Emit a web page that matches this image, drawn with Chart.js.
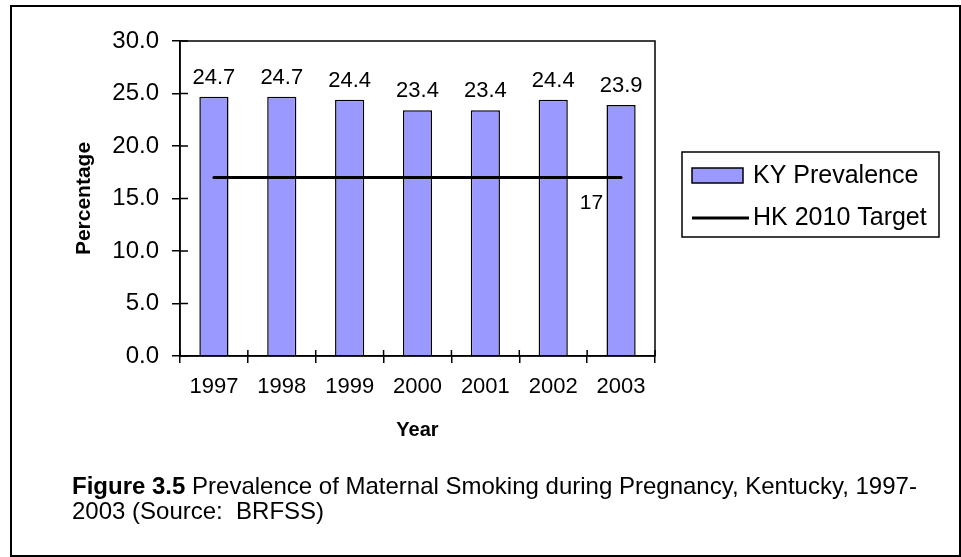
<!DOCTYPE html>
<html>
<head>
<meta charset="utf-8">
<script src="https://cdn.jsdelivr.net/npm/chart.js@4.4.0/dist/chart.umd.min.js"></script>
<style>
  html, body { margin: 0; padding: 0; background: #fff; }
  #wrap { position: relative; width: 961px; height: 557px; overflow: hidden; }
  #frame { position: absolute; left: 10px; top: 5px; width: 947px; height: 548px; border: 2px solid #000; }
  #chart { position: absolute; left: 0; top: 0; }
  #caption { position: absolute; left: 72px; top: 473px; font-family: 'Liberation Sans', Arial, sans-serif;
             font-size: 24px; line-height: 25px; color: #000; white-space: nowrap; }
</style>
</head>
<body>
<div id="wrap">
  <div id="frame"></div>
  <canvas id="chart" width="961" height="557"></canvas>
  <div id="caption"><b>Figure 3.5</b> Prevalence of Maternal Smoking during Pregnancy, Kentucky, 1997-<br>2003 (Source:&nbsp; BRFSS)</div>
</div>
<script>
const years = ['1997', '1998', '1999', '2000', '2001', '2002', '2003'];
const kyPrevalence = [24.7, 24.7, 24.4, 23.4, 23.4, 24.4, 23.9];
const hkTarget = [17, 17, 17, 17, 17, 17, 17];
const targetLabel = '17';

const FONT = "'Liberation Sans', Arial, sans-serif";

// plot border, inner halves of the tick marks, value labels, boxed legend
const extras = {
    id: 'extras',
    beforeDatasetsDraw(chart) {
        const {ctx, chartArea: a, scales} = chart;
        ctx.save();
        ctx.strokeStyle = '#000';
        ctx.lineWidth = 1.5;
        ctx.strokeRect(a.left, a.top, a.right - a.left, a.bottom - a.top);
        ctx.beginPath();
        scales.y.ticks.forEach(t => {
            const y = scales.y.getPixelForValue(t.value);
            ctx.moveTo(a.left, y);
            ctx.lineTo(a.left + 8, y);
        });
        for (let i = 0; i <= years.length; i++) {
            const x = scales.x.getPixelForValue(i - 0.5);
            ctx.moveTo(x, a.bottom);
            ctx.lineTo(x, a.bottom - 6);
        }
        ctx.stroke();
        ctx.restore();
    },
    afterDatasetsDraw(chart) {
        const {ctx} = chart;
        ctx.save();
        ctx.fillStyle = '#000';
        ctx.font = `22px ${FONT}`;
        ctx.textAlign = 'center';
        ctx.textBaseline = 'alphabetic';
        chart.getDatasetMeta(0).data.forEach((el, i) => {
            ctx.fillText(kyPrevalence[i].toFixed(1), el.x, el.y - 13);
        });
        const pts = chart.getDatasetMeta(1).data;
        const last = pts[pts.length - 1];
        ctx.font = `21px ${FONT}`;
        ctx.textAlign = 'right';
        ctx.fillText(targetLabel, last.x - 18, last.y + 31);
        ctx.restore();
    },
    afterDraw(chart) {
        const {ctx} = chart;
        const ds = chart.data.datasets;
        const bx = 682, by = 152, bw = 257, bh = 85;
        ctx.save();
        ctx.fillStyle = '#fff';
        ctx.fillRect(bx, by, bw, bh);
        ctx.strokeStyle = '#000';
        ctx.lineWidth = 1.5;
        ctx.strokeRect(bx, by, bw, bh);
        ctx.fillStyle = ds[0].backgroundColor;
        ctx.fillRect(692, 168, 51, 15);
        ctx.strokeRect(692, 168, 51, 15);
        ctx.lineWidth = 3;
        ctx.beginPath();
        ctx.moveTo(692, 218);
        ctx.lineTo(749, 218);
        ctx.stroke();
        ctx.fillStyle = '#000';
        ctx.font = `25px ${FONT}`;
        ctx.textBaseline = 'middle';
        ctx.textAlign = 'left';
        ctx.fillText(ds[0].label, 753, 176);
        ctx.fillText(ds[1].label, 753, 218);
        ctx.restore();
    }
};

new Chart(document.getElementById('chart'), {
    data: {
        labels: years,
        datasets: [{
            type: 'bar',
            label: 'KY Prevalence',
            data: kyPrevalence,
            backgroundColor: '#9999FF',
            borderColor: '#000',
            borderWidth: 1.5,
            barPercentage: 0.43,
            categoryPercentage: 1,
            order: 2
        }, {
            type: 'line',
            label: 'HK 2010 Target',
            data: hkTarget,
            borderColor: '#000',
            borderWidth: 3,
            borderCapStyle: 'round',
            pointRadius: 0,
            fill: false,
            order: 1
        }]
    },
    options: {
        responsive: false,
        animation: false,
        layout: { padding: { left: 0, top: 41, right: 306, bottom: 111 } },
        plugins: { legend: { display: false }, tooltip: { enabled: false } },
        scales: {
            x: {
                offset: true,
                grid: { offset: true, drawOnChartArea: false, tickLength: 7, color: '#000', lineWidth: 1.5 },
                border: { color: '#000', width: 1.5 },
                ticks: { color: '#000', font: { family: FONT, size: 22 }, padding: 11, maxRotation: 0 },
                title: { display: true, text: 'Year', color: '#000',
                         font: { family: FONT, size: 20, weight: 'bold' }, padding: { top: 0, bottom: 4 } },
                afterFit(s) { s.height = 90; }
            },
            y: {
                min: 0,
                max: 30,
                grid: { drawOnChartArea: false, tickLength: 8, color: '#000', lineWidth: 1.5 },
                border: { color: '#000', width: 1.5 },
                ticks: { stepSize: 5, color: '#000', font: { family: FONT, size: 24 }, padding: 13,
                         callback: v => v.toFixed(1) },
                title: { display: true, text: 'Percentage', color: '#000',
                         font: { family: FONT, size: 21, weight: 'bold' }, padding: { top: 72, bottom: 0 } },
                afterFit(s) { s.width = 180; }
            }
        }
    },
    plugins: [extras]
});
</script>
</body>
</html>
